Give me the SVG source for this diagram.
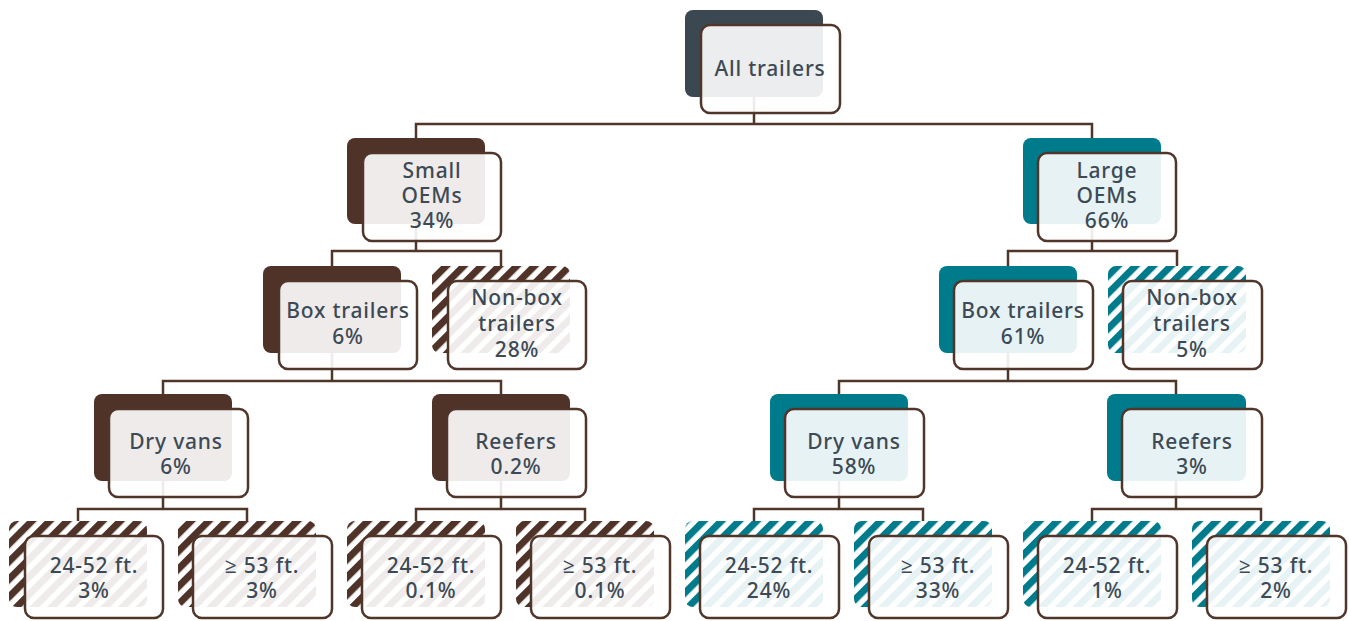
<svg xmlns="http://www.w3.org/2000/svg" width="1349" height="621" viewBox="0 0 1349 621">
<style>
.bg{fill:#ffffff}
.b-slate{fill:#3b4852}
.b-brown{fill:#4f3329}
.b-teal{fill:#007b8b}
.h-brown{fill:url(#hatchBrown)}
.h-teal{fill:url(#hatchTeal)}
.front{fill:#ffffff;fill-opacity:0.9;stroke:#50352b;stroke-width:2.5}
.conn{fill:none;stroke:#50352b;stroke-width:2.5;stroke-linejoin:miter}
.lbl{font-family:"Noto Sans","Open Sans","DejaVu Sans",sans-serif;font-size:21px;font-weight:500;fill:#3d4a55;text-anchor:middle;letter-spacing:0.8px}
</style>
<defs>
<pattern id="hatchBrown" patternUnits="userSpaceOnUse" width="12.5" height="12.5" patternTransform="rotate(45)">
<rect width="12.5" height="12.5" fill="#ffffff"/>
<rect width="7" height="12.5" fill="#4f3329"/>
</pattern>
<pattern id="hatchTeal" patternUnits="userSpaceOnUse" width="12.5" height="12.5" patternTransform="rotate(45)">
<rect width="12.5" height="12.5" fill="#ffffff"/>
<rect width="7" height="12.5" fill="#007b8b"/>
</pattern>
</defs>
<rect class="bg" x="0" y="0" width="1349" height="621"/>
<g id="connectors">
<path class="conn" d="M754 10 V124 M416 138 V124 H1092 V138"/>
<path class="conn" d="M416 138 V251 M332 266 V251 H501 V266"/>
<path class="conn" d="M1092 138 V251 M1008 266 V251 H1177 V266"/>
<path class="conn" d="M332 266 V381 M163 394 V381 H501 V394"/>
<path class="conn" d="M1008 266 V381 M839 394 V381 H1176 V394"/>
<path class="conn" d="M163 394 V509 M78 521 V509 H247 V521"/>
<path class="conn" d="M501 394 V509 M416 521 V509 H585 V521"/>
<path class="conn" d="M839 394 V509 M754 521 V509 H923 V521"/>
<path class="conn" d="M1176 394 V509 M1092 521 V509 H1261 V521"/>
</g>
<g id="node-all">
<rect class="b-slate" x="685" y="10" width="138" height="87" rx="8"/>
<rect class="front" x="701" y="25" width="139" height="88" rx="9"/>
<text class="lbl" x="770" y="76">All trailers</text>
</g>
<g id="node-small">
<rect class="b-brown" x="347" y="138" width="138" height="86" rx="8"/>
<rect class="front" x="363" y="153" width="138" height="88" rx="9"/>
<text class="lbl" x="432" y="178">Small</text>
<text class="lbl" x="432" y="203">OEMs</text>
<text class="lbl" x="432" y="228">34%</text>
</g>
<g id="node-large">
<rect class="b-teal" x="1023" y="138" width="138" height="86" rx="8"/>
<rect class="front" x="1038" y="153" width="138" height="88" rx="9"/>
<text class="lbl" x="1107" y="178">Large</text>
<text class="lbl" x="1107" y="203">OEMs</text>
<text class="lbl" x="1107" y="228">66%</text>
</g>
<g id="node-box-l">
<rect class="b-brown" x="263" y="266" width="138" height="87" rx="8"/>
<rect class="front" x="279" y="281" width="138" height="88" rx="9"/>
<text class="lbl" x="348" y="318">Box trailers</text>
<text class="lbl" x="348" y="344">6%</text>
</g>
<g id="node-nonbox-l">
<rect class="h-brown" x="432" y="266" width="138" height="87" rx="8"/>
<rect class="front" x="448" y="281" width="138" height="88" rx="9"/>
<text class="lbl" x="517" y="305">Non-box</text>
<text class="lbl" x="517" y="331">trailers</text>
<text class="lbl" x="517" y="357">28%</text>
</g>
<g id="node-box-r">
<rect class="b-teal" x="939" y="266" width="138" height="87" rx="8"/>
<rect class="front" x="954" y="281" width="139" height="88" rx="9"/>
<text class="lbl" x="1023" y="318">Box trailers</text>
<text class="lbl" x="1023" y="344">61%</text>
</g>
<g id="node-nonbox-r">
<rect class="h-teal" x="1108" y="266" width="138" height="87" rx="8"/>
<rect class="front" x="1123" y="281" width="139" height="88" rx="9"/>
<text class="lbl" x="1192" y="305">Non-box</text>
<text class="lbl" x="1192" y="331">trailers</text>
<text class="lbl" x="1192" y="357">5%</text>
</g>
<g id="node-dry-l">
<rect class="b-brown" x="94" y="394" width="138" height="87" rx="8"/>
<rect class="front" x="109" y="409" width="139" height="88" rx="9"/>
<text class="lbl" x="176" y="449">Dry vans</text>
<text class="lbl" x="176" y="474">6%</text>
</g>
<g id="node-reef-l">
<rect class="b-brown" x="432" y="394" width="138" height="87" rx="8"/>
<rect class="front" x="447" y="409" width="139" height="88" rx="9"/>
<text class="lbl" x="516" y="449">Reefers</text>
<text class="lbl" x="516" y="474">0.2%</text>
</g>
<g id="node-dry-r">
<rect class="b-teal" x="770" y="394" width="138" height="87" rx="8"/>
<rect class="front" x="785" y="409" width="139" height="88" rx="9"/>
<text class="lbl" x="854" y="449">Dry vans</text>
<text class="lbl" x="854" y="474">58%</text>
</g>
<g id="node-reef-r">
<rect class="b-teal" x="1107" y="394" width="139" height="87" rx="8"/>
<rect class="front" x="1122" y="409" width="140" height="88" rx="9"/>
<text class="lbl" x="1192" y="449">Reefers</text>
<text class="lbl" x="1192" y="474">3%</text>
</g>
<g id="leaf-1">
<rect class="h-brown" x="9" y="521" width="138" height="86" rx="8"/>
<rect class="front" x="25" y="536" width="138" height="82" rx="9"/>
<text class="lbl" x="94" y="573">24-52 ft.</text>
<text class="lbl" x="94" y="598">3%</text>
</g>
<g id="leaf-2">
<rect class="h-brown" x="178" y="521" width="138" height="86" rx="8"/>
<rect class="front" x="193" y="536" width="139" height="82" rx="9"/>
<text class="lbl" x="262" y="573">≥ 53 ft.</text>
<text class="lbl" x="262" y="598">3%</text>
</g>
<g id="leaf-3">
<rect class="h-brown" x="347" y="521" width="138" height="86" rx="8"/>
<rect class="front" x="362" y="536" width="139" height="82" rx="9"/>
<text class="lbl" x="431" y="573">24-52 ft.</text>
<text class="lbl" x="431" y="598">0.1%</text>
</g>
<g id="leaf-4">
<rect class="h-brown" x="516" y="521" width="138" height="86" rx="8"/>
<rect class="front" x="531" y="536" width="139" height="82" rx="9"/>
<text class="lbl" x="600" y="573">≥ 53 ft.</text>
<text class="lbl" x="600" y="598">0.1%</text>
</g>
<g id="leaf-5">
<rect class="h-teal" x="685" y="521" width="138" height="86" rx="8"/>
<rect class="front" x="700" y="536" width="139" height="82" rx="9"/>
<text class="lbl" x="769" y="573">24-52 ft.</text>
<text class="lbl" x="769" y="598">24%</text>
</g>
<g id="leaf-6">
<rect class="h-teal" x="854" y="521" width="138" height="86" rx="8"/>
<rect class="front" x="869" y="536" width="139" height="82" rx="9"/>
<text class="lbl" x="938" y="573">≥ 53 ft.</text>
<text class="lbl" x="938" y="598">33%</text>
</g>
<g id="leaf-7">
<rect class="h-teal" x="1023" y="521" width="138" height="86" rx="8"/>
<rect class="front" x="1038" y="536" width="139" height="82" rx="9"/>
<text class="lbl" x="1107" y="573">24-52 ft.</text>
<text class="lbl" x="1107" y="598">1%</text>
</g>
<g id="leaf-8">
<rect class="h-teal" x="1192" y="521" width="138" height="86" rx="8"/>
<rect class="front" x="1207" y="536" width="139" height="82" rx="9"/>
<text class="lbl" x="1276" y="573">≥ 53 ft.</text>
<text class="lbl" x="1276" y="598">2%</text>
</g>
</svg>
